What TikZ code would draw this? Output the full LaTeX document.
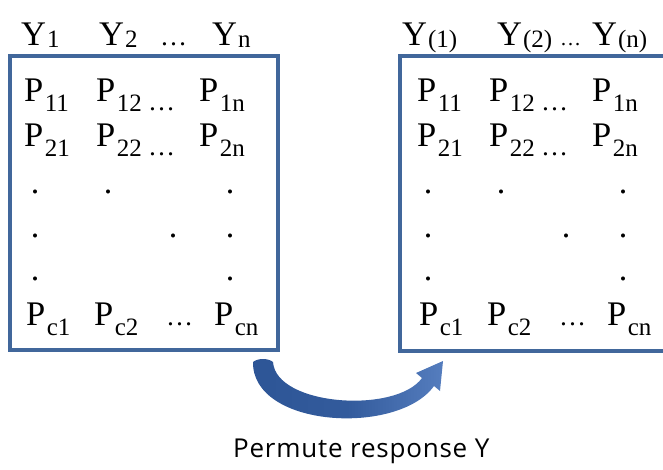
\documentclass[tikz,border=0pt]{standalone}
\usepackage{fontspec}
\setmainfont{Liberation Serif}
\newfontfamily\labelfont[LetterSpace=3]{Open Sans}
\definecolor{boxblue}{RGB}{65,103,155}
\definecolor{arrdark}{RGB}{45,85,150}
\definecolor{arrlight}{RGB}{85,125,190}
\newcommand{\PS}[2]{#1\kern1.5pt\raisebox{-10pt}{\fontsize{25}{25}\selectfont #2}}
\newcommand{\YS}[2]{#1\kern1pt\raisebox{-2pt}{\fontsize{25}{25}\selectfont #2}}
\begin{document}
\begin{tikzpicture}[x=1pt,y=-1pt,
  txt/.style={anchor=base west, inner sep=0pt, font=\fontsize{34.5}{34}\selectfont},
  ell/.style={anchor=base west, inner sep=0pt, font=\fontsize{27}{27}\selectfont},
  hell/.style={anchor=base west, inner sep=0pt, font=\fontsize{21}{21}\selectfont},
  dotm/.style={anchor=base, inner sep=0pt, font=\fontsize{34}{34}\selectfont},
  matbox/.style={draw=boxblue, line width=3.6pt},
  lbl/.style={anchor=base west, inner sep=0pt, font=\labelfont\fontsize{26}{26}\selectfont}]
\useasboundingbox (0,0) rectangle (663,470);
\clip (0,0) rectangle (663,470);
% boxes
\draw[matbox] (10,56) rectangle (278,350);
\draw[matbox] (400,56) rectangle (720,351);
% headers left
\node[txt] (y1) at (21,46) {\YS{Y}{1}};
\node[txt] (y2) at (99,46) {\YS{Y}{2}};
\node[ell] (yd) at (160,46) {…};
\node[txt] (yn) at (212,46) {\YS{Y}{n}};
% headers right
\node[txt] (z1) at (402,46) {\YS{Y}{(1)}};
\node[txt] (z2) at (497,46) {\YS{Y}{(2)}};
\node[hell] (zd) at (560,46) {…};
\node[txt] (zn) at (592,46) {\YS{Y}{(n)}};
% matrix contents
\foreach \dx/\s in {0/a,393/b}{
  \node[txt] (\s11) at (24+\dx,102) {\PS{P}{11}};
  \node[txt] (\s12) at (96+\dx,102) {\PS{P}{12}};
  \node[ell] (\s1d) at (148+\dx,111) {…};
  \node[txt] (\s1n) at (199+\dx,102) {\PS{P}{1n}};
  \node[txt] (\s21) at (24+\dx,147) {\PS{P}{21}};
  \node[txt] (\s22) at (96+\dx,147) {\PS{P}{22}};
  \node[ell] (\s2d) at (148+\dx,156) {…};
  \node[txt] (\s2n) at (199+\dx,147) {\PS{P}{2n}};
  \node[dotm] (\s d1a) at (35+\dx,194) {.};
  \node[dotm] (\s d1b) at (108+\dx,194) {.};
  \node[dotm] (\s d1c) at (230+\dx,194) {.};
  \node[dotm] (\s d2a) at (35+\dx,237) {.};
  \node[dotm] (\s d2b) at (173+\dx,237) {.};
  \node[dotm] (\s d2c) at (230+\dx,237) {.};
  \node[dotm] (\s d3a) at (35+\dx,280) {.};
  \node[dotm] (\s d3c) at (230+\dx,280) {.};
  \node[txt] (\s c1) at (26+\dx,325) {\PS{P}{c1}};
  \node[txt] (\s c2) at (94+\dx,325) {\PS{P}{c2}};
  \node[ell] (\s cd) at (166+\dx,325) {…};
  \node[txt] (\s cn) at (214+\dx,325) {\PS{P}{cn}};
}
% curved block arrow
\shade[left color=arrdark, right color=arrlight, middle color=arrdark!85!arrlight]
  (253,362) .. controls (252,428) and (398,436) .. (434,386)
  -- (440,391) -- (443,361) -- (416,373) -- (422,378)
  .. controls (396,414) and (276,406) .. (273,362)
  .. controls (268,358) and (258,358) .. (253,362) -- cycle;
\node[lbl] (cap) at (233,457) {Permute response Y};
\end{tikzpicture}
\end{document}
